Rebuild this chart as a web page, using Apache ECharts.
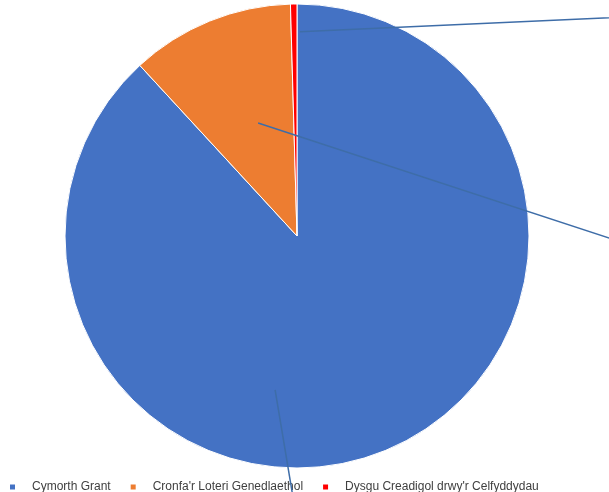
<!DOCTYPE html>
<html>
<head>
<meta charset="utf-8">
<script src="https://cdn.jsdelivr.net/npm/echarts@6/dist/echarts.min.js"></script>
<style>html,body{margin:0;padding:0;background:#fff}#c{width:609px;height:492px}</style>
</head>
<body>
<div id="c"></div>
<script>
var categories = ['Cymorth Grant', "Cronfa'r Loteri Genedlaethol", "Dysgu Creadigol drwy'r Celfyddydau"];
var values = [88.15, 11.4, 0.45];
var colors = ['#4472C4', '#ED7D31', '#FF0000'];

// leader line styling: start (polar, deg clockwise from top, fraction of radius), direction
var PIE_CENTER = [297, 236];
var PIE_RADIUS = 232;
var leaderStyle = [
  {angle: 188.1, frac: 0.67, dir: [17, 102]},
  {angle: 341, frac: 0.515, dir: [351, 115]},
  {angle: 0.8, frac: 0.88, dir: [309, -14]}
];

var pieData = categories.map(function (c, i) { return {name: c, value: values[i]}; });

var chart = echarts.init(document.getElementById('c'), null, {renderer: 'canvas'});
chart.setOption({
  animation: false,
  color: colors,
  legend: {
    bottom: -1,
    left: 8,
    padding: 0,
    itemWidth: 7,
    itemHeight: 7,
    itemGap: 18,
    icon: 'rect',
    selectedMode: false,
    z: 1,
    textStyle: {fontFamily: 'Liberation Sans', fontSize: 12, color: '#404040', padding: [0, 0, 0, 11]},
    data: categories
  },
  series: [{
    type: 'pie',
    z: 2,
    center: PIE_CENTER,
    radius: PIE_RADIUS,
    startAngle: 90,
    clockwise: true,
    itemStyle: {borderColor: '#ffffff', borderWidth: 1},
    label: {show: false},
    labelLine: {show: false},
    emphasis: {disabled: true},
    data: pieData
  }, {
    type: 'pie',
    z: 5,
    center: PIE_CENTER,
    radius: PIE_RADIUS,
    startAngle: 90,
    clockwise: true,
    silent: true,
    avoidLabelOverlap: false,
    itemStyle: {color: 'rgba(0,0,0,0)', borderWidth: 0},
    label: {show: true, position: 'outside', formatter: '{d}%', color: '#404040'},
    labelLine: {show: true, lineStyle: {color: '#3E6DA8', width: 1.5}},
    labelLayout: function (p) {
      var s = leaderStyle[p.dataIndex];
      var a = s.angle * Math.PI / 180;
      var sx = PIE_CENTER[0] + Math.sin(a) * PIE_RADIUS * s.frac;
      var sy = PIE_CENTER[1] - Math.cos(a) * PIE_RADIUS * s.frac;
      var t = 3;
      var ex = sx + s.dir[0] * t, ey = sy + s.dir[1] * t;
      return {
        x: ex + 20,
        y: ey,
        labelLinePoints: [[sx, sy], [(sx + ex) / 2, (sy + ey) / 2], [ex, ey]]
      };
    },
    emphasis: {disabled: true},
    data: pieData
  }]
});
</script>
</body>
</html>
